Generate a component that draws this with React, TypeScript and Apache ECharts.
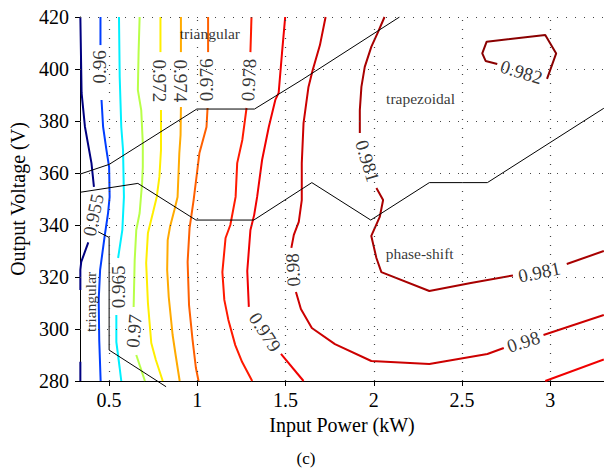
import React, { useEffect, useRef } from 'react';
import * as echarts from 'echarts';

// axis ticks
const xTicks = [0.5, 1, 1.5, 2, 2.5, 3];
const yTicks = [280, 300, 320, 340, 360, 380, 400, 420];

// contour segments: [input power (kW), output voltage (V)]
const c955 = [
  [[0.337, 420], [0.344, 390.8], [0.363, 377.8], [0.4, 363.8], [0.414, 354.7]],
  [[0.382, 333.3], [0.342, 325.8], [0.337, 322.7], [0.337, 315.0]],
  [[0.337, 287.4], [0.337, 280]],
];
const c960 = [
  [[0.451, 420], [0.451, 409.2]],
  [[0.457, 388.1], [0.466, 377.7], [0.485, 368.8], [0.5, 362.3], [0.503, 350.8], [0.494, 344.6],
   [0.475, 335.8], [0.449, 322.7], [0.441, 311.2], [0.444, 295.8], [0.452, 280]],
];
const c965 = [
  [[0.556, 420], [0.56, 396.9], [0.569, 377.7], [0.579, 368.8], [0.584, 350.8], [0.575, 338.1], [0.551, 327.3]],
  [[0.541, 305.4], [0.541, 295.0], [0.56, 285.0], [0.569, 280]],
];
const c970 = [
  [[0.673, 420], [0.667, 406.2], [0.663, 391.9], [0.682, 384.2], [0.691, 371.5], [0.691, 362.3],
   [0.687, 356.2], [0.673, 344.6], [0.654, 338.1], [0.645, 326.5], [0.639, 308.5]],
  [[0.654, 290.0], [0.703, 280]],
];
const c972 = [
  [[0.791, 420], [0.791, 406.5]],
  [[0.794, 384.2], [0.794, 368.8], [0.785, 358.5], [0.77, 350.8], [0.748, 344.6], [0.72, 336.9],
   [0.71, 325.4], [0.72, 310.0], [0.739, 294.6], [0.765, 288.1], [0.804, 280]],
];
const c974 = [
  [[0.907, 420], [0.907, 406.5]],
  [[0.907, 385.4], [0.905, 374.6], [0.898, 367.7], [0.888, 350.8], [0.87, 345.8], [0.845, 339.2],
   [0.832, 334.2], [0.829, 322.7], [0.838, 312.3], [0.86, 297.7], [0.877, 290.0], [0.9, 280]],
];
const c976 = [
  [[1.061, 420], [1.061, 406.5]],
  [[1.058, 385.0], [1.052, 377.7], [1.012, 367.7], [0.998, 360.0], [0.979, 349.6], [0.956, 338.8],
   [0.945, 325.8], [0.953, 309.2], [0.973, 295.8], [0.992, 285.0], [1.007, 280]],
];
const c978 = [
  [[1.307, 420], [1.301, 406.5]],
  [[1.279, 385.0], [1.255, 372.7], [1.226, 363.8], [1.217, 350.8], [1.187, 340.0], [1.16, 335.0],
   [1.142, 321.9], [1.153, 311.2], [1.176, 303.5], [1.215, 293.8], [1.254, 287.3], [1.311, 280]],
];
const c979 = [
  [[1.498, 420], [1.48, 406.2], [1.461, 390.8], [1.442, 388.1], [1.405, 377.7], [1.367, 365.0],
   [1.339, 350.8], [1.322, 343.8], [1.301, 338.1], [1.283, 322.3], [1.292, 308.5]],
  [[1.474, 290.4], [1.602, 280]],
  [[2.972, 280], [3.304, 288.3]],
];
const c980 = [
  [[1.727, 420], [1.695, 409.2], [1.654, 399.6], [1.63, 393.1], [1.602, 379.2], [1.592, 363.8],
   [1.592, 349.6], [1.575, 341.2], [1.547, 336.2], [1.533, 331.2]],
  [[1.559, 314.2], [1.587, 307.7], [1.649, 300.4], [1.78, 294.2], [1.986, 287.7], [2.315, 286.5],
   [2.644, 290.4], [2.737, 292.7]],
  [[2.962, 297.7], [3.304, 305.4]],
];
const c981 = [
  [[2.061, 420], [2.024, 414.2], [1.986, 408.5], [1.949, 400.8], [1.93, 393.1], [1.921, 384.2], [1.921, 375.4]],
  [[2.015, 354.2], [2.053, 349.6], [2.034, 343.1], [1.986, 335.8], [2.015, 327.3], [2.043, 321.9],
   [2.315, 314.6], [2.55, 317.7], [2.789, 320.6]],
  [[3.094, 325.0], [3.304, 330.0]],
];
const c982 = [
  [[2.7, 401.9], [2.634, 403.1], [2.615, 406.0], [2.64, 410.5], [2.972, 413.1], [3.034, 406.0], [2.982, 396.2]],
];

const levelNames = ['0.955', '0.96', '0.965', '0.97', '0.972', '0.974', '0.976', '0.978', '0.979', '0.98', '0.981', '0.982'];
const levelSegments = [c955, c960, c965, c970, c972, c974, c976, c978, c979, c980, c981, c982];
const levelColors = ['#000080', '#003DFF', '#00F0FF', '#B8FF48', '#FFEE00', '#FFAA00', '#FF6000', '#FF1A00', '#F00000', '#CC0000', '#A80000', '#8A0000'];

// contour labels: text, x, y
const labelTexts = ['0.955', '0.96', '0.965', '0.97', '0.972', '0.974', '0.976', '0.978', '0.979', '0.98', '0.981', '0.981', '0.98', '0.982'];
const labelX = [0.41, 0.444, 0.551, 0.641, 0.787, 0.905, 1.052, 1.291, 1.384, 1.542, 1.964, 2.938, 2.848, 2.837];
const labelY = [343.8, 400.8, 316.2, 299.2, 395.4, 395.4, 395.8, 395.8, 298.8, 322.7, 364.6, 321.9, 295.1, 398.8];
const labelRot = [78, 90, 90, 85, -90, -90, 90, 87, -57, 93, -73, 12, 18, -17];

// modulation-mode boundaries
const boundaryA = [[0.337, 359.6], [0.5, 363.3], [0.997, 384.6], [1.324, 384.6], [1.592, 395.8], [2.146, 420]];
const boundaryB = [[0.337, 352.6], [0.663, 356.0], [0.992, 341.9], [1.32, 341.9], [1.649, 356.3], [1.983, 341.9],
  [2.315, 356.3], [2.644, 356.3], [3.304, 384.9]];
const boundaryC = [[0.438, 337.4], [0.5, 335.2], [0.5, 291.9], [0.823, 277.8]];

// region names
const regionTexts = ['triangular', 'trapezoidal', 'phase-shift', 'triangular'];
const regionX = [1.071, 2.265, 2.26, 0.396];
const regionY = [413.5, 388.8, 329.2, 310.4];
const regionRot = [0, 0, 0, 90];

const FONT = '"Liberation Serif", "Times New Roman", serif';

export default function App() {
  const ref = useRef<HTMLDivElement>(null);
  useEffect(() => {
    if (!ref.current) return;
    const chart = echarts.init(ref.current, undefined, { renderer: 'svg' });
    const series: any[] = [];

    // dotted grid
    series.push({
      type: 'line',
      data: [[xTicks[0], yTicks[0]]],
      showSymbol: false,
      symbol: 'none',
      lineStyle: { opacity: 0 },
      silent: true,
      z: 1,
      markLine: {
        silent: true,
        symbol: 'none',
        label: { show: false },
        animation: false,
        lineStyle: { type: [1, 8], width: 1.2, color: '#444' },
        data: [
          ...xTicks.map((v) => ({ xAxis: v })),
          ...yTicks.slice(1).map((v) => ({ yAxis: v })),
        ],
      },
    });

    levelSegments.forEach((segs, i) => {
      segs.forEach((seg) => {
        series.push({
          type: 'line',
          data: seg,
          showSymbol: false,
          symbol: 'none',
          silent: true,
          z: 3,
          lineStyle: { color: levelColors[i], width: 2 },
        });
      });
    });

    [boundaryA, boundaryB, boundaryC].forEach((b, i) => {
      series.push({
        type: 'line',
        data: b,
        showSymbol: false,
        symbol: 'none',
        silent: true,
        clip: i !== 2,
        z: 4,
        lineStyle: { color: '#000', width: 1 },
      });
    });

    series.push({
      type: 'scatter',
      symbolSize: 0,
      silent: true,
      z: 5,
      data: labelTexts.map((t, i) => ({
        name: t,
        value: [labelX[i], labelY[i]],
        label: { rotate: labelRot[i] },
      })),
      label: {
        show: true,
        position: 'inside',
        formatter: '{b}',
        fontSize: 19,
        fontFamily: FONT,
        color: '#000',
      },
    });

    series.push({
      type: 'scatter',
      symbolSize: 0,
      silent: true,
      z: 5,
      data: regionTexts.map((t, i) => ({
        name: t,
        value: [regionX[i], regionY[i]],
        label: { rotate: regionRot[i] },
      })),
      label: {
        show: true,
        position: 'inside',
        formatter: '{b}',
        fontSize: 15.5,
        fontFamily: FONT,
        color: '#000',
      },
    });

    chart.setOption({
      animation: false,
      backgroundColor: '#fff',
      grid: { left: 77, top: 17, right: 0, bottom: 90 },
      graphic: [
        {
          type: 'text',
          x: 306,
          y: 458,
          style: { text: '(c)', font: `17px ${FONT}`, fill: '#000', align: 'center', verticalAlign: 'middle' },
        },
      ],
      xAxis: {
        type: 'value',
        min: 0.335,
        max: 3.305,
        name: 'Input Power (kW)',
        nameLocation: 'middle',
        nameGap: 34,
        nameTextStyle: { fontSize: 20, fontFamily: FONT, color: '#000' },
        axisLine: { onZero: false, lineStyle: { color: '#000', width: 1 } },
        axisTick: { customValues: xTicks, length: 5, lineStyle: { color: '#000' } },
        axisLabel: { customValues: xTicks, fontSize: 20, fontFamily: FONT, color: '#000', margin: 9 },
        splitLine: { show: false },
      },
      yAxis: {
        type: 'value',
        min: 280,
        max: 420,
        interval: 20,
        name: 'Output Voltage (V)',
        nameLocation: 'middle',
        nameGap: 52,
        nameTextStyle: { fontSize: 20, fontFamily: FONT, color: '#000' },
        axisLine: { show: true, onZero: false, lineStyle: { color: '#000', width: 1 } },
        axisTick: { show: true, length: 5, lineStyle: { color: '#000' } },
        axisLabel: { fontSize: 20, fontFamily: FONT, color: '#000', margin: 11 },
        splitLine: { show: false },
      },
      series,
    });
    return () => chart.dispose();
  }, []);
  return <div ref={ref} style={{ position: 'absolute', left: 0, top: 0, width: 604, height: 471 }} />;
}
